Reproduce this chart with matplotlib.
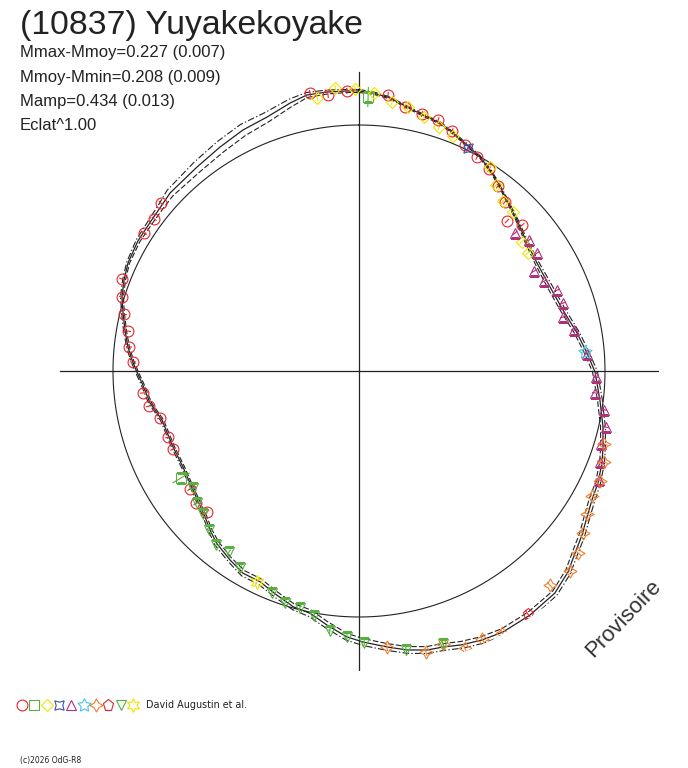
import numpy as np
import matplotlib
matplotlib.use("Agg")
import matplotlib.pyplot as plt

W, H = 688, 768

# ---------------- data ----------------
title = "(10837) Yuyakekoyake"
stats = ["Mmax-Mmoy=0.227 (0.007)", "Mmoy-Mmin=0.208 (0.009)",
         "Mamp=0.434 (0.013)", "Eclat^1.00"]
observer = "David Augustin et al."
copyright_txt = "(c)2026 OdG-R8"
watermark = "Provisoire"

# fitted curve: angle (deg, clockwise from top), radius, sigma
fit_ang = [0, 2.9, 6.5, 10.3, 14.0, 18.1, 21.6, 25.5, 29.5, 33.1, 36.5, 40.9, 46.3,
           52.7, 58.8, 66.3, 73.4, 80.1, 85.5, 90.2, 96.9, 102.9, 107.3, 110.7, 115.1,
           119.0, 122.6, 126.3, 130.1, 133.9, 138.6, 145.0, 151.1, 155.4, 159.4, 163.1,
           166.3, 170.2, 174.2, 179.2, 182.7, 187.2, 191.4, 195.6, 200.2, 205.2, 209.8,
           214.3, 219.6, 223.1, 226.6, 234.4, 241.4, 247.8, 256.0, 261.3, 266.8, 269.7,
           272.8, 275.9, 279.9, 283.8, 287.3, 291.2, 295.1, 300.5, 306.2, 309.8, 313.3,
           321.6, 328.2, 334.3, 340.1, 345.6, 349.3, 353.5, 357.5]
fit_r = [280.0, 278.4, 274.8, 268.3, 263.9, 260.9, 255.9, 250.5, 245.8, 239.9, 233.8,
         226.1, 218.5, 211.2, 208.2, 208.7, 212.9, 221.3, 228.7, 236.0, 242.7, 250.3,
         255.6, 259.8, 263.9, 266.3, 270.7, 276.8, 282.5, 290.0, 296.1, 298.0, 298.1,
         295.8, 292.5, 288.5, 287.2, 283.1, 277.4, 271.0, 266.0, 256.0, 247.2, 244.7,
         238.6, 232.8, 233.1, 228.8, 223.5, 217.9, 212.0, 204.2, 200.5, 200.9, 203.0,
         211.4, 217.3, 222.0, 227.3, 232.2, 237.6, 243.0, 248.3, 252.0, 255.0, 256.5,
         256.5, 257.5, 259.6, 260.5, 263.6, 267.5, 270.1, 276.7, 280.9, 280.8, 280.3]
fit_sig = [1.5, 1.2, 1, 1, 1, 1, 1, 1, 1, 1, 1, 1, 1.2, 1.5, 2, 2.5, 2.5, 2.5, 2.5, 2.5,
           2.5, 2.5, 2.5, 2.5, 2.5, 3, 3, 3, 3, 3, 3, 3.5, 3.5, 3.5, 3.5, 3.5, 3.5, 3.5,
           3.5, 3.5, 3.5, 3.5, 3.5, 3, 3, 3, 3, 2.5, 2.5, 2, 2, 1.5, 1.5, 1.5, 1.5, 1.5,
           1.5, 1.5, 1.5, 1.5, 1.5, 1.5, 1.5, 1.5, 1.5, 2, 2.5, 3, 4, 5.5, 6, 6, 5, 4,
           2.5, 2, 1.5]
ref_radius = 246

# observations: series (angle deg, radius)
red_circ_ang = [350.0, 353.6, 357.5, 6.0, 9.9, 13.8, 17.5, 21.2, 25.1, 28.9, 32.8, 36.9,
                40.8, 44.6, 48.2, 310.3, 306.6, 302.7, 291.2, 287.3, 283.6, 279.8, 276.0,
                272.3, 264.2, 260.5, 256.7, 250.9, 247.2, 235.1, 231.0, 227.2]
red_circ_r = [282.3, 277.7, 280.3, 277.5, 268.0, 264.6, 263.1, 257.4, 249.6, 244.4, 240.2,
              231.4, 223.3, 210.7, 218.8, 259.7, 255.2, 255.5, 254.2, 248.3, 241.8, 234.4,
              231.2, 226.2, 217.1, 212.9, 204.5, 202.1, 201.7, 206.1, 209.8, 207.3]
green_sq_ang = [1.9, 239.0]
green_sq_r = [274.1, 207.7]
yel_dia_ang = [351.3, 355.2, 359.2, 3.1, 7.0, 10.5, 14.4, 18.2, 21.8, 32.7, 36.4, 40.3,
               44.1, 51.6, 55.1]
yel_dia_r = [276.2, 284.0, 282.0, 278.4, 271.0, 268.5, 262.2, 256.8, 253.1, 242.4, 231.0,
             222.8, 221.4, 207.9, 206.1]
blue_x_ang = [26.0]
blue_x_r = [248.2]
purp_tri_ang = [48.5, 52.4, 56.5, 60.3, 64.1, 67.8, 71.6, 75.2, 79.2, 85.7, 91.5, 95.3,
                99.0, 102.8, 106.8, 110.7, 114.4]
purp_tri_r = [208.3, 214.6, 213.6, 201.6, 205.7, 213.9, 215.0, 211.0, 218.9, 228.6, 237.1,
              237.0, 248.1, 253.3, 252.8, 257.6, 263.6]
cyan_star_ang = [85.2]
cyan_star_r = [226.8]
orange_st_ang = [106.6, 110.4, 114.5, 118.2, 122.1, 125.9, 129.7, 133.5, 138.3, 151.3,
                 155.3, 159.1, 162.9, 166.6, 174.2]
orange_st_r = [255.6, 261.4, 264.9, 264.4, 269.1, 276.4, 284.8, 290.7, 286.8, 298.5,
               294.9, 296.6, 285.6, 288.9, 277.4]
red_pent_ang = [145.2]
red_pent_r = [296.0]
green_tri_ang = [234.8, 230.8, 227.5, 223.3, 219.4, 215.7, 211.1, 201.4, 197.7, 194.0,
                 190.4, 186.4, 182.6, 178.9, 170.4, 162.9]
green_tri_r = [203.1, 209.0, 211.6, 218.6, 225.2, 222.9, 230.1, 238.4, 243.5, 244.2,
               249.1, 261.6, 266.3, 272.0, 282.9, 285.6]
yel_star_ang = [205.8]
yel_star_r = [234.4]

series = [
    (red_circ_ang, red_circ_r, 'o', '#e8242c', 7.8, 3),
    (green_sq_ang, green_sq_r, 's', '#58b040', 6.8, 10),
    (yel_dia_ang, yel_dia_r, 'D', '#f0e400', 6.2, 3),
    (blue_x_ang, blue_x_r, (4, 1, 45), '#3a50a8', 9.5, 4),
    (purp_tri_ang, purp_tri_r, '^', '#b0307a', 7.8, 3),
    (cyan_star_ang, cyan_star_r, (5, 1, 0), '#48c4e0', 10.0, 4),
    (orange_st_ang, orange_st_r, (4, 1, 0), '#f08030', 9.5, 4),
    (red_pent_ang, red_pent_r, 'p', '#e8242c', 8.3, 5),
    (green_tri_ang, green_tri_r, 'v', '#58b040', 7.8, 3),
    (yel_star_ang, yel_star_r, (6, 1, 0), '#f0e400', 10.0, 5),
]

# ---------------- figure ----------------
fig = plt.figure(figsize=(W / 100, H / 100), dpi=100)
fig.patch.set_facecolor('white')

cx, cy, R = 359, 371, 300
ax = fig.add_axes([(cx - R) / W, (H - (cy + R)) / H, 2 * R / W, 2 * R / H],
                  projection='polar')
ax.set_theta_zero_location('N')
ax.set_theta_direction(-1)
ax.set_rlim(0, R)
ax.axis('off')

line_c = '#222222'
# axes cross
for a in (0, 90, 180, 270):
    ax.plot([np.radians(a)] * 2, [0, 299], color=line_c, lw=0.9, zorder=1)
# reference circle
tt = np.linspace(0, 2 * np.pi, 721)
ax.plot(tt, np.full_like(tt, ref_radius), color=line_c, lw=0.8, zorder=1)

# fitted curves
fa = np.radians(np.array(fit_ang + [fit_ang[0] + 360]))
fr = np.array(fit_r + [fit_r[0]])
fs = np.array(fit_sig + [fit_sig[0]])
ax.plot(fa, fr, color=line_c, lw=0.9, zorder=2)
ax.plot(fa, fr + fs, color=line_c, lw=0.8, dashes=(6, 2, 1.2, 2), zorder=2)
ax.plot(fa, fr - fs, color=line_c, lw=0.8, dashes=(5, 2), zorder=2)

# observations
for ang, rr, mk, col, ms, err in series:
    th = np.radians(ang)
    rr = np.array(rr)
    ax.vlines(th, rr - err, rr + err, colors=col, lw=0.8, zorder=3)
    ax.plot(th, rr, linestyle='none', marker=mk, ms=ms, mfc='none', mec=col,
            mew=0.8, zorder=4)

# ---------------- texts ----------------
def fx(x):
    return x / W


def fy(y):
    return 1 - y / H


fig.text(fx(20), fy(34), title, fontsize=24.3, family='Liberation Sans',
         color='#222222', va='baseline', ha='left')
for i, s in enumerate(stats):
    fig.text(fx(20), fy(57.3 + 24.3 * i), s, fontsize=12, family='Liberation Sans',
             color='#222222', va='baseline', ha='left')

fig.text(fx(623), fy(619), watermark, fontsize=16, family='Liberation Sans',
         color='#333333', rotation=46, ha='center', va='center',
         rotation_mode='anchor')

# legend row
lax = fig.add_axes([0, 0, 1, 1])
lax.set_xlim(0, W)
lax.set_ylim(H, 0)
lax.axis('off')
for i, (ang, rr, mk, col, ms, err) in enumerate(series):
    lax.plot(22 + 12.35 * i, 705, marker=mk, ms=ms, mfc='none', mec=col, mew=0.8,
             linestyle='none')
fig.text(fx(146), fy(705), observer, fontsize=6.9, family='DejaVu Sans',
         color='#222222', va='center', ha='left')
fig.text(fx(20), fy(763), copyright_txt, fontsize=5.5, family='DejaVu Sans',
         color='#222222', va='baseline', ha='left')

fig.savefig('out.png', dpi=100, facecolor='white')
